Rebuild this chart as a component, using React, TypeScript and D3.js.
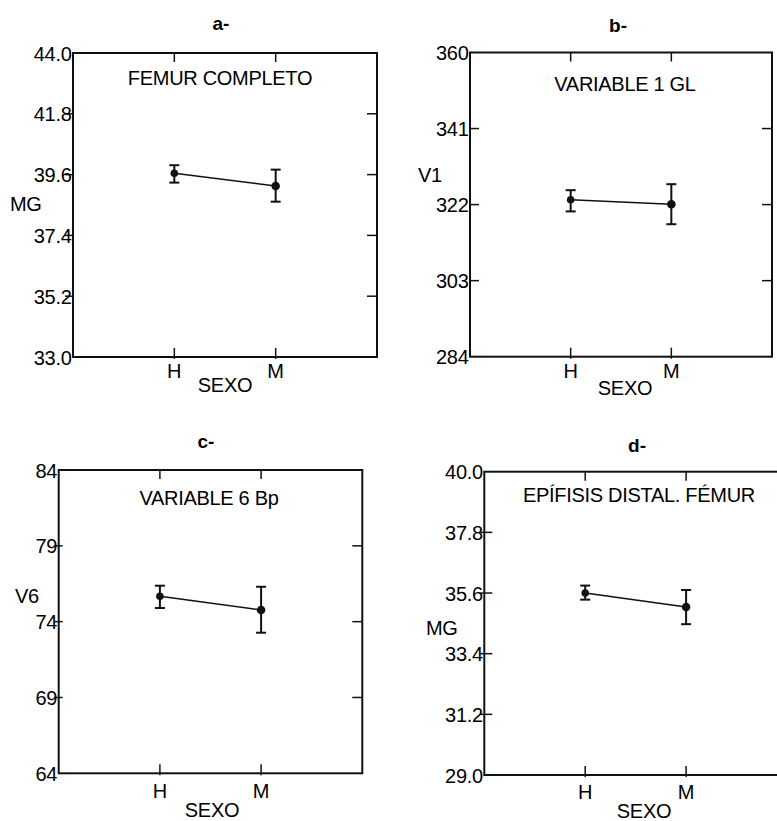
import React from "react";
import * as d3 from "d3";

// ---- data ----
const categories = ["H", "M"];
const panelLetters = ["a-", "b-", "c-", "d-"];
const panelNotes = ["FEMUR COMPLETO", "VARIABLE 1 GL", "VARIABLE 6 Bp", "EPÍFISIS DISTAL. FÉMUR"];
const yAxisLabels = ["MG", "V1", "V6", "MG"];
const xAxisLabel = "SEXO";

const yTicksA = [33.0, 35.2, 37.4, 39.6, 41.8, 44.0];
const yTicksB = [284, 303, 322, 341, 360];
const yTicksC = [64, 69, 74, 79, 84];
const yTicksD = [29.0, 31.2, 33.4, 35.6, 37.8, 40.0];
const tickDecimals = [1, 0, 0, 1];

const meansA = [39.65, 39.19];
const lowA = [39.31, 38.62];
const highA = [39.94, 39.78];

const meansB = [323.2, 322.1];
const lowB = [320.3, 317.1];
const highB = [325.6, 327.1];

const meansC = [75.67, 74.77];
const lowC = [74.9, 73.27];
const highC = [76.37, 76.3];

const meansD = [35.6, 35.09];
const lowD = [35.36, 34.47];
const highD = [35.87, 35.71];

// ---- layout ----
type Layout = {
  L: number; R: number; T: number; B: number;
  titleX: number; titleY: number;
  noteX: number; noteY: number;
  ylabX: number; ylabY: number;
  catY: number; sexoX: number; sexoY: number;
  tickOut: number; tickIn: number;
};

const layouts: Layout[] = [
  { L: 73, R: 377, T: 53, B: 357, titleX: 221, titleY: 30, noteX: 220, noteY: 85, ylabX: 10, ylabY: 211, catY: 378, sexoX: 225, sexoY: 392, tickOut: 8, tickIn: 0 },
  { L: 470, R: 772, T: 52.5, B: 356.7, titleX: 618, titleY: 32, noteX: 625, noteY: 91, ylabX: 418, ylabY: 182, catY: 378, sexoX: 625, sexoY: 395, tickOut: 0, tickIn: 9 },
  { L: 58.7, R: 362.3, T: 470, B: 773.3, titleX: 206, titleY: 448, noteX: 209, noteY: 505, ylabX: 15, ylabY: 603, catY: 798, sexoX: 212, sexoY: 817, tickOut: 4, tickIn: 4 },
  { L: 484.3, R: 787, T: 471.7, B: 775, titleX: 637, titleY: 452, noteX: 639, noteY: 502, ylabX: 426, ylabY: 635, catY: 799, sexoX: 644, sexoY: 818, tickOut: 4, tickIn: 8 },
];

const panelTicks = [yTicksA, yTicksB, yTicksC, yTicksD];
const panelMeans = [meansA, meansB, meansC, meansD];
const panelLow = [lowA, lowB, lowC, lowD];
const panelHigh = [highA, highB, highC, highD];

const FONT = "'Liberation Sans', Arial, Helvetica, sans-serif";
const FS = 20;

function Panel({ i }: { i: number }) {
  const lay = layouts[i];
  const ticks = panelTicks[i];
  const means = panelMeans[i];
  const low = panelLow[i];
  const high = panelHigh[i];
  const y = d3.scaleLinear().domain([ticks[0], ticks[ticks.length - 1]]).range([lay.B, lay.T]);
  const x = d3.scalePoint<string>().domain(categories).range([lay.L, lay.R]).padding(1);
  const line = d3
    .line<number>()
    .x((_, k) => x(categories[k])!)
    .y((d) => y(d));
  const fmt = (v: number) => v.toFixed(tickDecimals[i]);
  const stroke = "#111";
  const cap = 5;
  return (
    <g>
      <text x={lay.titleX} y={lay.titleY} textAnchor="middle" fontFamily={FONT} fontWeight="bold" fontSize={19} fill="#000">
        {panelLetters[i]}
      </text>
      <rect x={lay.L} y={lay.T} width={lay.R - lay.L} height={lay.B - lay.T} fill="none" stroke={stroke} strokeWidth={2} />
      {ticks.map((t, k) => (
        <g key={"yt" + k}>
          {k > 0 && k < ticks.length - 1 && (
            <>
              <line x1={lay.L - lay.tickOut} x2={lay.L + lay.tickIn} y1={y(t)} y2={y(t)} stroke={stroke} strokeWidth={1.5} />
              <line x1={lay.R - 10} x2={lay.R} y1={y(t)} y2={y(t)} stroke={stroke} strokeWidth={1.5} />
            </>
          )}
          <text x={lay.L - 1.5} y={y(t)} dy="0.38em" textAnchor="end" fontFamily={FONT} fontSize={FS} letterSpacing={-0.3} fill="#000">
            {fmt(t)}
          </text>
        </g>
      ))}
      {categories.map((c) => (
        <g key={"xt" + c}>
          <line x1={x(c)} x2={x(c)} y1={lay.T} y2={lay.T + 9} stroke={stroke} strokeWidth={1.5} />
          <line x1={x(c)} x2={x(c)} y1={lay.B - 9} y2={lay.B + 2} stroke={stroke} strokeWidth={1.5} />
          <text x={x(c)} y={lay.catY} textAnchor="middle" fontFamily={FONT} fontSize={FS} fill="#000">
            {c}
          </text>
        </g>
      ))}
      <text x={lay.sexoX} y={lay.sexoY} textAnchor="middle" fontFamily={FONT} fontSize={FS} letterSpacing={-0.3} fill="#000">
        {xAxisLabel}
      </text>
      <text x={lay.ylabX} y={lay.ylabY} textAnchor="start" fontFamily={FONT} fontSize={FS} letterSpacing={-0.3} fill="#000">
        {yAxisLabels[i]}
      </text>
      <text x={lay.noteX} y={lay.noteY} textAnchor="middle" fontFamily={FONT} fontSize={FS} letterSpacing={-0.3} fill="#000">
        {panelNotes[i]}
      </text>
      <path d={line(means) || ""} fill="none" stroke={stroke} strokeWidth={1.6} />
      {categories.map((c, k) => (
        <g key={"eb" + c}>
          <line x1={x(c)} x2={x(c)} y1={y(low[k])} y2={y(high[k])} stroke={stroke} strokeWidth={2} />
          <line x1={x(c)! - cap} x2={x(c)! + cap} y1={y(low[k])} y2={y(low[k])} stroke={stroke} strokeWidth={2} />
          <line x1={x(c)! - cap} x2={x(c)! + cap} y1={y(high[k])} y2={y(high[k])} stroke={stroke} strokeWidth={2} />
          <circle cx={x(c)} cy={y(means[k])} r={k === 0 ? 3.8 : 4.3} fill={stroke} />
        </g>
      ))}
    </g>
  );
}

export default function App() {
  return (
    <svg
      width={777}
      height={821}
      style={{ position: "absolute", left: 0, top: 0, background: "#fff" }}
      xmlns="http://www.w3.org/2000/svg"
    >
      <rect x={0} y={0} width={777} height={821} fill="#fff" />
      {[0, 1, 2, 3].map((i) => (
        <Panel key={i} i={i} />
      ))}
    </svg>
  );
}
